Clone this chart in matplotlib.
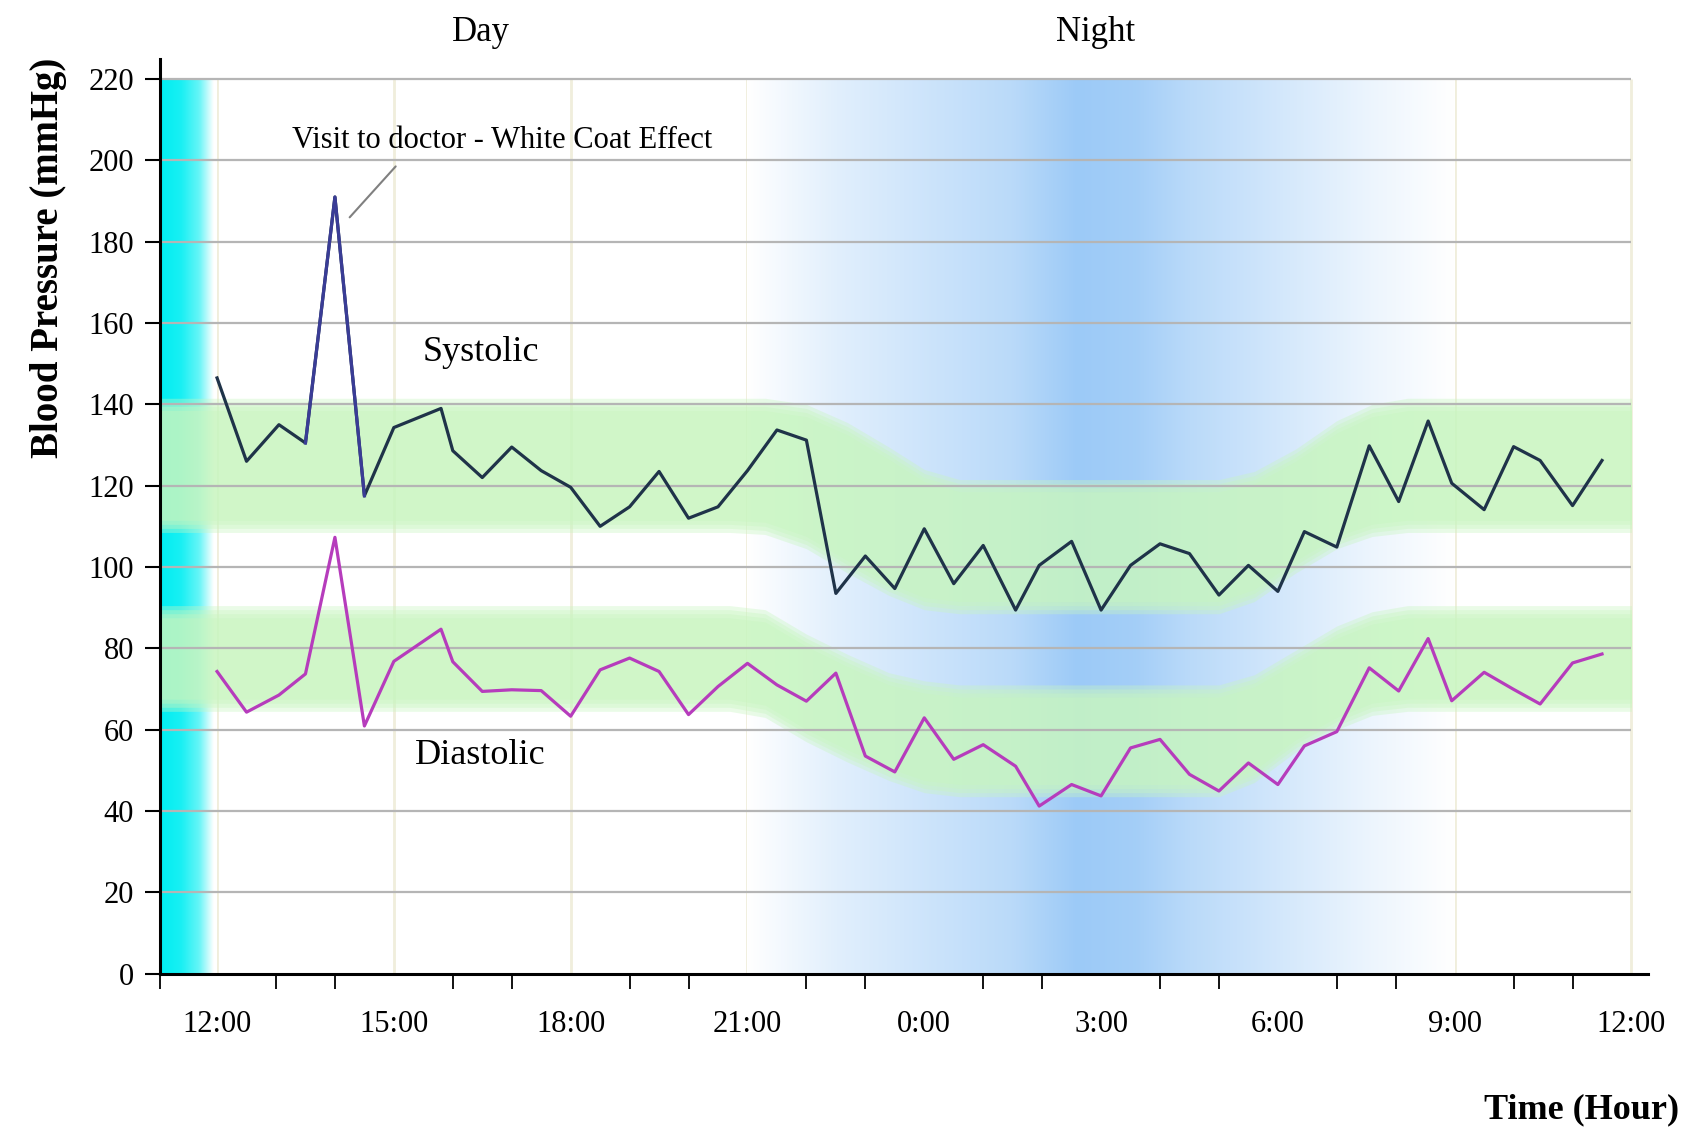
import numpy as np
import matplotlib.pyplot as plt
from matplotlib.colors import to_rgb

plt.rcParams['font.family'] = ['Liberation Serif', 'DejaVu Serif']

# time in hours after 12:00 noon
hours = [0, 0.5, 1.05, 1.5, 2, 2.5, 3, 3.8, 4, 4.5,
         5, 5.5, 6, 6.5, 7, 7.5, 8, 8.5, 9, 9.5,
         10, 10.5, 11, 11.5, 12, 12.5, 13, 13.55, 13.95, 14.5,
         15, 15.5, 16, 16.5, 17, 17.5, 18, 18.45, 19, 19.55,
         20.05, 20.55, 20.95, 21.5, 22, 22.45, 23, 23.5]

systolic = [146.5, 126, 135, 130.5, 191, 117.5, 134.3, 139, 128.6, 122,
            129.5, 123.7, 119.6, 110, 114.8, 123.5, 112, 114.8, 123.7, 133.7,
            131.2, 93.5, 102.7, 94.7, 109.4, 95.9, 105.3, 89.4, 100.4, 106.3,
            89.4, 100.4, 105.7, 103.3, 93.1, 100.4, 94, 108.7, 104.9, 129.8,
            116.1, 135.9, 120.6, 114.1, 129.6, 126.2, 115.1, 126.2]

diastolic = [74.3, 64.3, 68.5, 73.7, 107.3, 60.9, 76.8, 84.7, 76.7, 69.4,
             69.8, 69.6, 63.3, 74.7, 77.6, 74.3, 63.7, 70.6, 76.3, 71,
             67, 73.9, 53.5, 49.6, 62.9, 52.7, 56.3, 51, 41.2, 46.5,
             43.7, 55.5, 57.6, 49, 44.9, 51.8, 46.5, 56, 59.5, 75.2,
             69.5, 82.4, 67.1, 74.1, 69.9, 66.3, 76.4, 78.6]

# normal ranges (day -> night -> day)
band_t = [-0.96, 8.7, 9.3, 10.0, 10.7, 11.4, 12.0, 12.6, 17.0, 17.6, 18.3, 19.0, 19.6, 20.2, 24.0]
sys_hi = [140, 140, 140, 138.5, 134, 128, 122.5, 120, 120, 122, 127.5, 134.5, 138.5, 140, 140]
sys_lo = [110, 110, 109.5, 106, 100, 94.5, 91, 90, 90, 93, 100, 106, 109, 110, 110]
dia_hi = [89, 89, 88, 82, 77, 72.5, 70.5, 69.5, 69.5, 72, 78, 84, 87.5, 89, 89]
dia_lo = [66, 66, 64.5, 58.5, 53.5, 49, 46, 45, 45, 48.5, 56, 61.5, 65, 66, 66]

tick_hours = [0, 3, 6, 9, 12, 15, 18, 21, 24]
tick_labels = ['12:00', '15:00', '18:00', '21:00', '0:00', '3:00', '6:00', '9:00', '12:00']

xmin, xmax = -0.96, 24.28

fig = plt.figure(figsize=(17, 11.28), dpi=100)
ax = fig.add_axes([0.0944, 0.1369, 0.9694 - 0.0944, 0.9479 - 0.1369])

# night shading (blue gradient)
gx = np.linspace(9.0, 21.0, 400)
prof = np.interp(gx, [9.0, 10.5, 12.0, 13.5, 14.6, 15.6, 16.5, 18.0, 19.5, 21.0],
                 [0, 0.3, 0.5, 0.7, 1.0, 0.92, 0.7, 0.45, 0.2, 0])
blue = np.array(to_rgb('#9ccaf7'))
img = 1 - prof[:, None] * (1 - blue[None, :])
ax.imshow(img[None, :, :], extent=[9.0, 21.0, 0, 220], aspect='auto',
          interpolation='bilinear', zorder=1.2)

# cyan strip at the start
cx = np.linspace(xmin, 0.0, 100)
cprof = np.interp(cx, [xmin, -0.6, -0.3, -0.05, 0.0], [1, 0.9, 0.6, 0, 0])
cyan = np.array(to_rgb('#00eef2'))
cimg = 1 - cprof[:, None] * (1 - cyan[None, :])
ax.imshow(cimg[None, :, :], extent=[xmin, 0.0, 0, 220], aspect='auto',
          interpolation='bilinear', zorder=1.3)

# normal range bands, soft edges
for off in [-1.5, -0.5, 0.5, 1.5]:
    ax.fill_between(band_t, np.array(sys_lo) - off, np.array(sys_hi) + off,
                    color='#c8f6c0', alpha=0.38, lw=0, zorder=2)
    ax.fill_between(band_t, np.array(dia_lo) - off, np.array(dia_hi) + off,
                    color='#c8f6c0', alpha=0.38, lw=0, zorder=2)

# grid
ax.vlines(tick_hours, 0, 220, color='#f0eedc', lw=2, zorder=1)
ax.hlines(np.arange(20, 221, 20), xmin, 24, color='#b5b5b5', lw=1.6, zorder=3)

# data
ax.plot(hours, systolic, color='#1f3349', lw=2.3, zorder=5)
ax.plot(hours[3:6], systolic[3:6], color='#3a3c96', lw=2.3, zorder=5.1)
ax.plot(hours, diastolic, color='#b63cbc', lw=2.3, zorder=5)

ax.set_xlim(xmin, xmax)
ax.set_ylim(0, 225)

ax.set_xticks(tick_hours)
ax.set_xticklabels(tick_labels)
ax.set_xticks([xmin] + [h for h in range(1, 24) if h % 3], minor=True)
ax.tick_params(axis='x', which='major', length=0, pad=26, labelsize=22)
ax.tick_params(axis='x', which='minor', length=11, width=1.3, direction='out')
ax.set_yticks(range(0, 221, 20))
ax.tick_params(axis='y', length=11, width=1.5, pad=8, labelsize=22)

for s in ['top', 'right']:
    ax.spines[s].set_visible(False)
for s in ['left', 'bottom']:
    ax.spines[s].set_linewidth(2.2)
    ax.spines[s].set_zorder(6)

# texts
ax.text(4.47, 231.4, 'Day', fontsize=25, ha='center', va='center', clip_on=False)
ax.text(14.9, 231.4, 'Night', fontsize=25, ha='center', va='center', clip_on=False)
ax.text(4.47, 152.8, 'Systolic', fontsize=26, ha='center', va='center', zorder=7)
ax.text(4.47, 53.6, 'Diastolic', fontsize=26, ha='center', va='center', zorder=7)
ax.annotate('Visit to doctor - White Coat Effect', xy=(2.25, 186), xytext=(4.84, 204.8),
            fontsize=22, ha='center', va='center', zorder=7,
            arrowprops=dict(arrowstyle='-', color='#808080', lw=1.5,
                            relpos=(0.27, 0), shrinkA=8, shrinkB=0))

ax.text(-0.075, 176, 'Blood Pressure (mmHg)', transform=ax.get_yaxis_transform(),
        rotation=90, fontsize=28, fontweight='bold', ha='center', va='center')
fig.text(0.988, 0.009, 'Time (Hour)', fontsize=26, fontweight='bold',
         ha='right', va='baseline')

plt.savefig('out.png', dpi=100)
